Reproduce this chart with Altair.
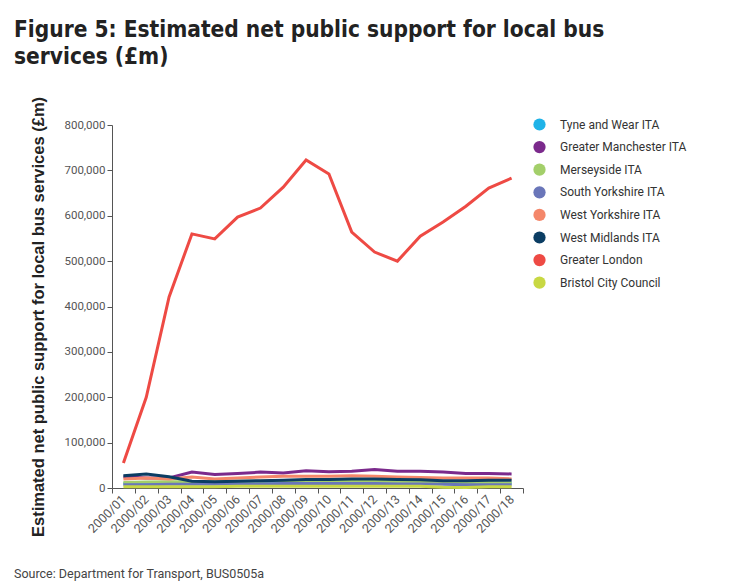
import altair as alt
import pandas as pd

years = [f"2000/{i:02d}" for i in range(1, 19)]

series_names = [
    "Tyne and Wear ITA",
    "Greater Manchester ITA",
    "Merseyside ITA",
    "South Yorkshire ITA",
    "West Yorkshire ITA",
    "West Midlands ITA",
    "Greater London",
    "Bristol City Council",
]
colors = ["#1fb3e8", "#7b2a8c", "#a3cf6a", "#6a76b9", "#f4876a", "#0b3d63", "#ee4a44", "#c8d843"]

tyne_wear = [10000, 10000, 11000, 11000, 11000, 12000, 12000, 13000, 14000, 14000, 14000, 13000, 13000, 12000, 11000, 11000, 11000, 10000]
greater_manchester = [25000, 22000, 22000, 35000, 30000, 32000, 35000, 33000, 38000, 36000, 37000, 41000, 37000, 37000, 35000, 32000, 32000, 31000]
merseyside = [12000, 13000, 14000, 14000, 14000, 15000, 15000, 16000, 16000, 16000, 16000, 15000, 14000, 13000, 12000, 12000, 12000, 11000]
south_yorkshire = [7000, 7000, 8000, 8000, 8000, 9000, 9000, 10000, 10000, 10000, 10000, 10000, 9000, 9000, 8000, 7000, 7000, 7000]
west_yorkshire = [20000, 22000, 20000, 24000, 20000, 22000, 24000, 26000, 26000, 26000, 27000, 26000, 24000, 23000, 22000, 22000, 22000, 20000]
west_midlands = [27000, 31000, 25000, 15000, 14000, 15000, 16000, 17000, 19000, 19000, 20000, 20000, 19000, 18000, 16000, 16000, 17000, 17000]
greater_london = [55000, 200000, 421000, 560000, 549000, 597000, 617000, 663000, 723000, 692000, 564000, 520000, 500000, 555000, 586000, 621000, 661000, 683000]
bristol = [3000, 3000, 3000, 3000, 3000, 4000, 4000, 4000, 4000, 4000, 4000, 4000, 4000, 4000, 1500, 1000, 3000, 3000]

all_values = [tyne_wear, greater_manchester, merseyside, south_yorkshire,
              west_yorkshire, west_midlands, greater_london, bristol]

rows = []
for name, vals in zip(series_names, all_values):
    for y, v in zip(years, vals):
        rows.append({"year": y, "series": name, "value": v})
df = pd.DataFrame(rows)

W, H = 411, 363
LEFT_SHIFT = 98

x_enc = alt.X("year:O", sort=years, bandPosition=0.5,
              scale=alt.Scale(type="band", paddingInner=0, paddingOuter=0),
              axis=alt.Axis(title=None, labelAngle=-45, labelAlign="right", labelBaseline="middle",
                            labelFont="Roboto", labelFontSize=12.5, labelColor="#555",
                            tickBand="extent", tickSize=5, tickColor="#555", domainColor="#555",
                            labelPadding=4))
y_enc = alt.Y("value:Q", scale=alt.Scale(domain=[0, 800000]),
              axis=alt.Axis(title="Estimated net public support for local bus services (£m)",
                            values=list(range(0, 800001, 100000)),
                            labelExpr="format(datum.value, ',')",
                            grid=False, labelFont="Roboto", labelFontSize=11.5, labelColor="#555",
                            tickSize=5, tickColor="#555", domainColor="#555",
                            titleFont="Liberation Sans", titleFontSize=16.5, titleFontWeight="bold",
                            titleColor="#222", titleX=-74, titleY=H / 2 + 10, titleAngle=-90,
                            titleBaseline="middle", titleAlign="center"))
color_scale = alt.Scale(domain=series_names, range=colors)
legend = alt.Legend(title=None, orient="none", legendX=421, legendY=-7, symbolType="circle",
                    symbolSize=150, symbolStrokeWidth=0, symbolOpacity=1,
                    labelFont="Roboto", labelFontSize=12, labelColor="#333",
                    rowPadding=9.6, labelOffset=14)

legend_pts = alt.Chart(df).mark_point(filled=True, size=0, opacity=1).encode(
    x=x_enc, y=y_enc,
    color=alt.Color("series:N", sort=series_names, scale=color_scale, legend=legend),
)

lines = alt.Chart(df).mark_line(strokeWidth=3).encode(
    x=x_enc, y=y_enc,
    color=alt.Color("series:N", sort=series_names, scale=color_scale, legend=legend),
)

source_df = pd.DataFrame({"t": ["Source: Department for Transport, BUS0505a"]})
source = alt.Chart(source_df).mark_text(
    align="left", baseline="middle", font="Roboto", fontSize=12.5, color="#444"
).encode(text="t:N", x=alt.value(-LEFT_SHIFT), y=alt.value(H + 86))

chart = alt.layer(legend_pts, lines, source).properties(
    width=W, height=H,
    padding={"left": 6, "top": 10, "right": 10, "bottom": 5},
    title=alt.TitleParams(
        ["Figure 5: Estimated net public support for local bus", "services (£m)"],
        anchor="start", frame="group", dx=-LEFT_SHIFT,
        font="Liberation Sans Narrow, DejaVu Sans Condensed, sans-serif",
        fontSize=22.5, fontWeight="bold", color="#222", lineHeight=27, offset=28,
    ),
).configure_view(stroke=None)

chart.save("out.html", embed_options={"renderer": "svg", "actions": False})
